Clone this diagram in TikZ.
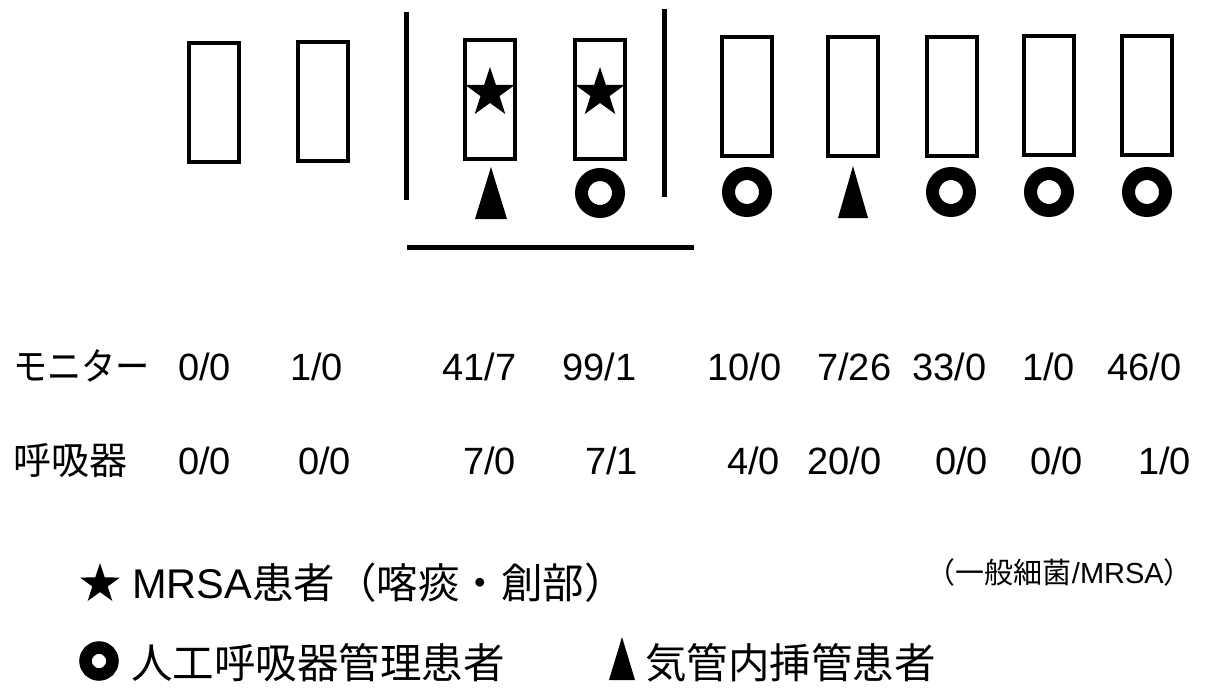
\documentclass[tikz,border=0pt]{standalone}
\usepackage{fontspec}
\setmainfont{Liberation Sans}
\newfontfamily\jp{Noto Sans CJK JP}
\usetikzlibrary{shapes.geometric}
\begin{document}
\begin{tikzpicture}[x=1pt,y=-1pt,
  bed/.style={draw, line width=4pt, minimum width=50pt, minimum height=119pt, inner sep=0pt},
  ring/.style={draw, circle, line width=13pt, minimum size=37pt, inner sep=0pt},
  mstar/.style={star, star points=5, star point ratio=2.6, fill, draw=none, minimum size=52pt, inner sep=0pt},
  wall/.style={line width=5pt},
  num/.style={anchor=base west, font=\fontsize{38}{40}\selectfont, inner sep=0pt},
  leg/.style={anchor=base west, font=\jp\fontsize{41.5}{44}\selectfont, inner sep=0pt}
]
\useasboundingbox (0,0) rectangle (1206,695);

% beds
\node[bed] (b1) at (214,102.5) {};
\node[bed] (b2) at (323,101.5) {};
\node[bed] (b3) at (490,100) {};
\node[bed] (b4) at (600,100) {};
\node[bed] (b5) at (746.5,96.5) {};
\node[bed] (b6) at (853,96.5) {};
\node[bed] (b7) at (951.5,96.5) {};
\node[bed] (b8) at (1049,96) {};
\node[bed] (b9) at (1147,96) {};

% stars in beds
\node[mstar] (s3) at (490,93) {};
\node[mstar] (s4) at (600,93) {};

% walls
\coordinate (w1t) at (406,12);
\coordinate (w1b) at (406,200);
\coordinate (w2t) at (664,9);
\coordinate (w2b) at (664,197);
\coordinate (flL) at (407,247);
\coordinate (flR) at (694,247);
\draw[wall] (w1t) -- (w1b);
\draw[wall] (w2t) -- (w2b);
\draw[wall] (flL) -- (flR);

% intubation triangles
\coordinate (t3) at (491,193);
\coordinate (t6) at (853,192);
\fill (t3) ++(0,-26) -- ++(16,52) -- ++(-32,0) -- cycle;
\fill (t6) ++(0,-26) -- ++(15,52) -- ++(-30,0) -- cycle;

% ventilator rings
\node[ring] (r4) at (600,193) {};
\node[ring] (r5) at (747,192) {};
\node[ring] (r7) at (951,192) {};
\node[ring] (r8) at (1049,192) {};
\node[ring] (r9) at (1147,192) {};

% row 1
\node[num] (m0) at (13,380) {\jp\scalebox{0.9}[1]{モニター}};
\node[num] (m1) at (178,380) {0/0};
\node[num] (m2) at (290,380) {1/0};
\node[num] (m3) at (442,380) {41/7};
\node[num] (m4) at (562,380) {99/1};
\node[num] (m5) at (707,380) {10/0};
\node[num] (m6) at (817,380) {7/26};
\node[num] (m7) at (912,380) {33/0};
\node[num] (m8) at (1022,380) {1/0};
\node[num] (m9) at (1107,380) {46/0};

% row 2
\node[num] (v0) at (13,474) {\jp 呼吸器};
\node[num] (v1) at (178,474) {0/0};
\node[num] (v2) at (298,474) {0/0};
\node[num] (v3) at (463,474) {7/0};
\node[num] (v4) at (585,474) {7/1};
\node[num] (v5) at (727,474) {4/0};
\node[num] (v6) at (807,474) {20/0};
\node[num] (v7) at (935,474) {0/0};
\node[num] (v8) at (1030,474) {0/0};
\node[num] (v9) at (1138,474) {1/0};

% legend
\node[mstar, minimum size=42pt] (ls) at (100,584) {};
\node[leg] (lt1) at (132,598) {\rmfamily MRSA{\jp 患者（喀痰・創部）}};
\node[anchor=base east, font=\fontsize{29}{31}\selectfont, inner sep=0pt] (unit) at (1193,583) {{\jp （一般細菌}/MRSA{\jp ）}};
\node[ring, minimum size=27pt, line width=12.5pt] (lr) at (99,661) {};
\node[leg] (lt2) at (131,678) {人工呼吸器管理患者};
\coordinate (lt) at (622,659);
\fill (lt) ++(0,-22) -- ++(13,43) -- ++(-26,0) -- cycle;
\node[leg] (lt3) at (645,678) {気管内挿管患者};
\end{tikzpicture}
\end{document}
